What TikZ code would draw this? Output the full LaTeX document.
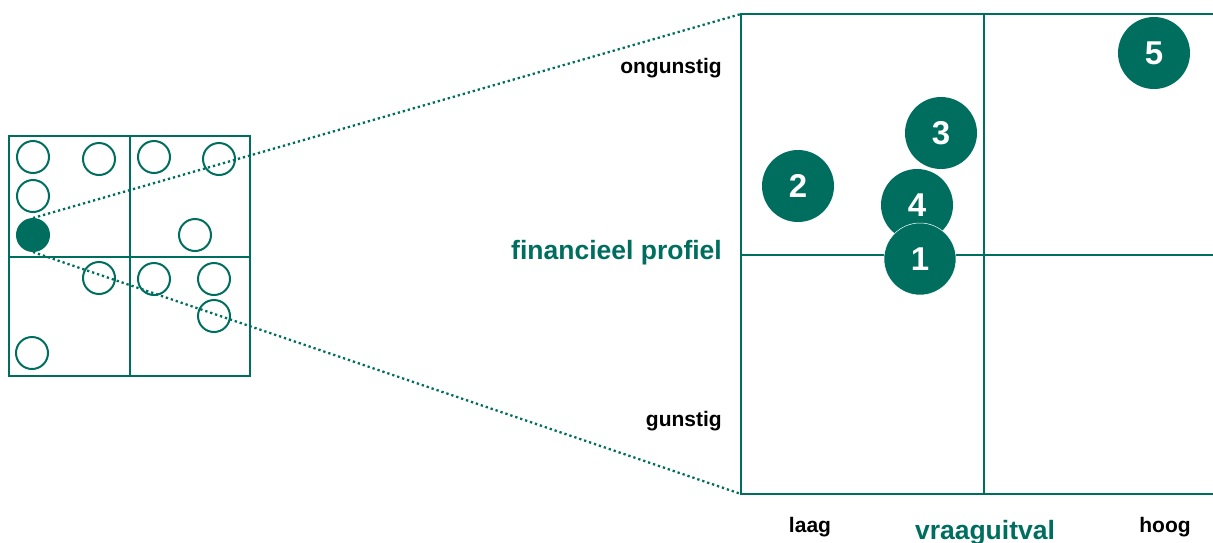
\documentclass[tikz,border=0pt]{standalone}
\usepackage{fontspec}
\setmainfont{Liberation Sans}
\usepackage{tikz}
\definecolor{dgreen}{RGB}{0,110,95}

\tikzset{
    dot/.style={circle,draw=dgreen,line width=2pt,minimum size=32pt,inner sep=0pt},
    bub/.style={circle,fill=dgreen,minimum size=72pt,inner sep=0pt,text=white,font=\fontsize{33}{33}\selectfont\bfseries},
    lbl/.style={inner sep=0pt,font=\fontsize{21}{21}\selectfont\bfseries},
    axlbl/.style={inner sep=0pt,text=dgreen,font=\fontsize{26.5}{26.5}\selectfont\bfseries},
    zoomline/.style={dgreen,line width=2.3pt,dash pattern=on 2.3pt off 2.9pt}
}

\begin{document}
\begin{tikzpicture}[x=1pt,y=-1pt]
    \useasboundingbox (0,0) rectangle (1213,542);

    % small overview grid
    \draw [dgreen,line width=2pt] (9,136) rectangle (250,376);
    \draw [dgreen,line width=2pt] (130,136)--(130,376);
    \draw [dgreen,line width=2pt] (9,257)--(250,257);

    \node[dot] (s1) at (33,157) {};
    \node[dot] (s2) at (99,159) {};
    \node[dot] (s3) at (33,196) {};
    \node[dot] (s4) at (154,157) {};
    \node[dot] (s5) at (219,159) {};
    \node[dot] (s6) at (195,235) {};
    \node[dot] (s7) at (99,278) {};
    \node[dot] (s8) at (154,279) {};
    \node[dot] (s9) at (214,279) {};
    \node[dot] (s10) at (214,316) {};
    \node[dot] (s11) at (32,353) {};
    \node[dot,fill=dgreen] (sel) at (33,235) {};

    % zoomed frame
    \coordinate (ftl) at (741,14);
    \coordinate (fbl) at (741,494);
    \draw [dgreen,line width=2pt] (ftl) rectangle (1227,494);
    \draw [dgreen,line width=2pt] (984,14)--(984,494);
    \draw [dgreen,line width=2pt] (741,255)--(1227,255);

    \draw [zoomline] (sel.north)--(ftl);
    \draw [zoomline] (sel.south)--(fbl);

    \node[bub] (b5) at (1154,53) {5};
    \node[bub] (b3) at (941,133) {3};
    \node[bub] (b2) at (798,186) {2};
    \node[bub] (b4) at (917,205) {4};
    \node[bub,draw=white,line width=0.5pt] (b1) at (920,259) {1};

    % axis texts
    \node[lbl,anchor=base east] (ong) at (722,73) {ongunstig};
    \node[lbl,anchor=base east] (gun) at (722,426) {gunstig};
    \node[axlbl,anchor=base east] (fin) at (722,259) {financieel profiel};
    \node[lbl,anchor=base] (laag) at (810,532) {laag};
    \node[lbl,anchor=base] (hoog) at (1165,532) {hoog};
    \node[axlbl,anchor=base] (vraag) at (985,539) {vraaguitval};
\end{tikzpicture}
\end{document}
